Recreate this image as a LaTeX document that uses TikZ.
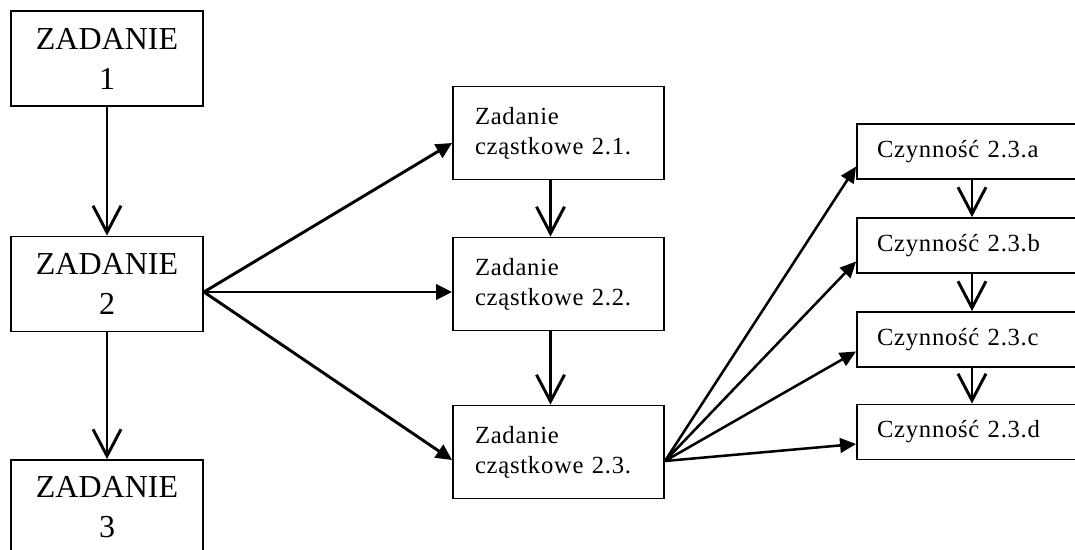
\documentclass[tikz,border=0pt]{standalone}
\usepackage{fontspec}
\setmainfont{Liberation Serif}
\newfontfamily\spacedfont[LetterSpace=3]{Liberation Serif}
\usetikzlibrary{arrows.meta,calc}
\begin{document}
\begin{tikzpicture}[x=0.75pt,y=-0.75pt,
  bigbox/.style={draw,line width=1.4pt,inner sep=0pt,minimum width=144pt,minimum height=71.25pt,align=center,font=\fontsize{24}{30}\selectfont},
  subbox/.style={draw,line width=1.4pt,inner xsep=16.5pt,inner ysep=0pt,minimum width=158.25pt,minimum height=69.75pt,text width=125.25pt,align=left,font=\spacedfont\fontsize{18.5}{22.5}\selectfont},
  actbox/.style={draw,line width=1.4pt,inner xsep=15pt,inner ysep=0pt,minimum width=172.5pt,minimum height=41.25pt,text width=142.5pt,align=left,font=\spacedfont\fontsize{18.5}{22.5}\selectfont},
  openarrow/.style={line width=2.2pt,-{Straight Barb[length=20pt,width=21pt]}},
  fillarrow/.style={line width=2.2pt,-{Triangle[length=12pt,width=11.5pt]}},
  thinarrow/.style={line width=1.9pt,-{Triangle[length=12pt,width=11pt]}}]
\useasboundingbox (0,0) rectangle (1075,550);
\clip (0,0) rectangle (1075,550);
\node[bigbox] (z1) at (107,58.5) {ZADANIE\\1};
\node[bigbox] (z2) at (107,284) {ZADANIE\\2};
\node[bigbox] (z3) at (107,507.5) {ZADANIE\\3};
\node[subbox] (s1) at (558.5,133) {Zadanie\\cząstkowe 2.1.};
\node[subbox] (s2) at (558.5,284) {Zadanie\\cząstkowe 2.2.};
\node[subbox] (s3) at (558.5,452) {Zadanie\\cząstkowe 2.3.};
\node[actbox] (a) at (972,151.5) {Czynność 2.3.a};
\node[actbox] (b) at (972,245.5) {Czynność 2.3.b};
\node[actbox] (c) at (972,339.5) {Czynność 2.3.c};
\node[actbox] (d) at (972,432) {Czynność 2.3.d};
\coordinate (o2) at ($(z2.east)+(0,8)$);
\coordinate (o3) at ($(s3.east)+(0,9)$);
\draw[openarrow] (z1.south) -- (z2.north);
\draw[openarrow] (z2.south) -- (z3.north);
\draw[fillarrow] (o2) -- ($(s1.west)+(0,10)$);
\draw[fillarrow] (o2) -- ($(s2.west)+(0,8)$);
\draw[fillarrow] (o2) -- ($(s3.west)+(0,8)$);
\draw[openarrow] ($(s1.south)+(-8,0)$) -- ($(s2.north)+(-8,0)$);
\draw[openarrow] ($(s2.south)+(-8,0)$) -- ($(s3.north)+(-8,0)$);
\draw[thinarrow] (o3) -- ($(a.west)+(0,15)$);
\draw[thinarrow] (o3) -- ($(b.west)+(0,16)$);
\draw[thinarrow] (o3) -- ($(c.west)+(0,12)$);
\draw[thinarrow] (o3) -- ($(d.west)+(0,12)$);
\draw[openarrow] (a.south) -- (b.north);
\draw[openarrow] (b.south) -- (c.north);
\draw[openarrow] (c.south) -- (d.north);
\end{tikzpicture}
\end{document}
